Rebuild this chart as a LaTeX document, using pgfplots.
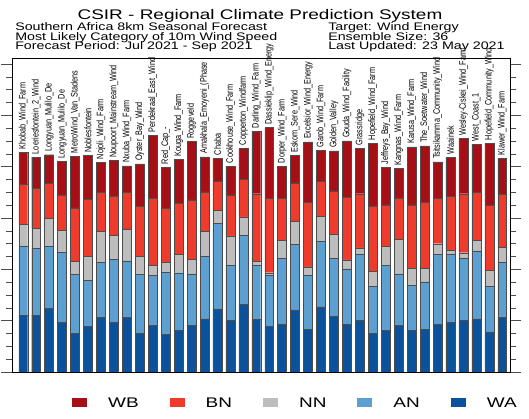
\documentclass[border=0pt]{standalone}
\usepackage{fontspec}
\setmainfont{Liberation Sans}
\newfontfamily\widefont[FakeStretch=1.36]{Liberation Sans}
\usepackage{graphicx}
\usepackage{pgfplots}
\usepackage{pgfplotstable}
\pgfplotsset{compat=1.18}

\definecolor{cWB}{HTML}{A50F15}
\definecolor{cBN}{HTML}{EF3B2C}
\definecolor{cNN}{HTML}{BDBDBD}
\definecolor{cAN}{HTML}{5BA0D0}
\definecolor{cWA}{HTML}{0A529C}
\definecolor{edge}{HTML}{4D4D4D}

% stacked shares per site, bottom to top
\pgfplotstableread{
x  WA   AN   NN   BN   WB   name
0  22.2 27.0 8.3  15.7 12.4 Khobab\_Wind\_Farm
1  22.2 26.0 7.8  15.6 12.2 Loeriesfontein\_2\_Wind
2  24.7 24.4 10.9 13.5 11.2 Longyuan\_Mulilo\_De
3  19.6 27.0 8.5  14.0 13.1 Longyuan\_Mulilo\_De
4  15.1 23.1 4.9  20.9 20.2 MetroWind\_Van\_Stadens
5  17.7 18.1 9.4  22.0 17.2 Noblesfontein
6  21.2 21.6 12.0 15.3 11.7 Nojoli\_Wind\_Farm
7  19.6 24.2 9.4  15.5 13.7 Noupoort\_Mainstream\_Wind
8  21.2 22.1 12.4 14.4 10.3 Nxuba\_Wind\_Farm
9  15.1 23.1 6.9  19.6 16.4 Oyster\_Bay\_Wind
10 18.1 19.6 3.9  26.1 24.6 Perdekraal\_East\_Wind
11 14.7 24.1 3.9  21.1 16.1 Red\_Cap\_-
12 16.1 22.6 7.3  19.8 17.0 Kouga\_Wind\_Farm
13 18.1 20.2 5.5  23.3 22.8 Roggeveld
14 20.7 24.4 9.6  15.5 13.7 Amakhala\_Emoyeni\_(Phase
15 24.6 33.3 5.2  11.1 9.2  Chaba
16 20.0 21.7 11.4 16.0 11.2 Cookhouse\_Wind\_Farm
17 26.3 26.9 7.3  14.6 12.2 Copperton\_Windfarm
18 20.5 21.2 1.4  26.4 24.4 Darling\_Wind\_Farm
19 17.7 20.0 1.0  29.0 27.6 Dassieklip\_Wind\_Energy
20 18.6 25.7 6.9  16.5 12.6 Dorper\_Wind\_Farm
21 24.2 25.5 9.0  15.0 10.7 Eskom\_Sere\_Wind
22 16.6 21.1 3.3  25.2 23.5 Excelsior\_Wind\_Energy
23 25.4 25.4 9.8  13.7 12.1 Garob\_Wind\_Farm
24 21.8 22.5 9.4  16.9 15.6 Golden\_Valley
25 18.6 21.6 3.5  24.3 22.1 Gouda\_Wind\_Facility
26 20.0 26.1 2.3  21.1 17.7 Grassridge
27 15.1 18.2 5.9  25.6 24.4 Hopefield\_Wind\_Farm
28 16.1 25.5 7.3  16.3 14.6 Jeffreys\_Bay\_Wind
29 18.1 20.2 13.3 16.3 11.6 Kangnas\_Wind\_Farm
30 16.1 17.6 6.8  24.7 22.6 Karusa\_Wind\_Farm
31 16.6 18.5 5.3  25.7 22.1 The\_Soetwater\_Wind
32 18.6 27.4 4.0  17.7 14.2 Tsitsikamma\_Community\_Wind
33 19.6 26.4 1.4  21.2 15.2 Waainek
34 20.0 24.3 2.2  23.0 21.5 Wesley-Ciskei\_Wind\_Farm
35 20.7 26.5 4.0  18.9 18.7 West\_Coast\_1
36 15.6 17.7 6.2  25.6 24.1 Hopefield\_Community\_Wind
37 21.2 21.6 5.7  20.7 14.2 Klawer\_Wind\_Farm
}\sites

\begin{document}
\begin{tikzpicture}
\useasboundingbox (0,0) rectangle (529bp,419bp);

\node[anchor=base, font=\widefont\fontsize{14}{16}\selectfont, inner sep=0pt] at (260bp,399.7bp) {CSIR - Regional Climate Prediction System};
\begin{scope}[every node/.style={anchor=base west, font=\fontsize{11}{13}\selectfont, xscale=1.3, inner sep=0pt}]
\node at (15bp,388.3bp) {Southern Africa 8km Seasonal Forecast};
\node at (15bp,378.5bp) {Most Likely Category of 10m Wind Speed};
\node at (15bp,369.5bp) {Forecast Period: Jul 2021 - Sep 2021};
\node at (328bp,388.3bp) {Target: Wind Energy};
\node at (328bp,378bp) {Ensemble Size: 36};
\node at (328bp,369.5bp) {Last Updated: 23 May 2021};
\end{scope}

\begin{axis}[
    at={(12bp,47bp)}, anchor=south west,
    scale only axis,
    width=498bp, height=313.7bp,
    xmin=-0.87, xmax=37.6,
    ymin=0, ymax=122.3,
    ybar stacked,
    bar width=0.69,
    xtick=\empty,
    ytick={0,20,...,120},
    minor ytick={0,5,...,120},
    yticklabels={},
    tick align=outside,
    major tick length=11bp,
    minor tick length=6bp,
    every tick/.style={edge, line width=0.7bp},
    axis line style={black, line width=0.8bp},
    every axis plot/.append style={draw=edge, line width=0.45bp},
    legend columns=5,
    legend image code/.code={\fill[#1] (0bp,-4.5bp) rectangle (15bp,4.5bp);},
    legend style={draw=none, fill=none, inner sep=0pt,
        at={(0.1205,-0.0988)}, anchor=west,
        font=\widefont\fontsize{14}{16}\selectfont,
        /tikz/every odd column/.append style={column sep=19bp},
        /tikz/every even column/.append style={column sep=29bp}},
]
\addlegendimage{fill=cWB, draw=none}
\addlegendimage{fill=cBN, draw=none}
\addlegendimage{fill=cNN, draw=none}
\addlegendimage{fill=cAN, draw=none}
\addlegendimage{fill=cWA, draw=none}

\addplot[fill=cWA, forget plot] table[x=x, y=WA] {\sites};
\addplot[fill=cAN, forget plot] table[x=x, y=AN] {\sites};
\addplot[fill=cNN, forget plot] table[x=x, y=NN] {\sites};
\addplot[fill=cBN, forget plot] table[x=x, y=BN] {\sites};
% site names: the node sits mid-segment, so lift it by half the WB segment
\addplot[fill=cWB, forget plot,
    visualization depends on={rawy \as \segh},
    nodes near coords={\rotatebox{90}{\scalebox{1}[1.3]{\makebox[0pt][l]{\hspace{3bp}\pgfplotspointmeta}}}},
    point meta=explicit symbolic,
    every node near coord/.append style={font=\fontsize{7.3}{8}\selectfont, inner sep=0pt, black,
        yshift={\segh*1.2825bp}}]
    table[x=x, y=WB, meta=name] {\sites};

\legend{WB,BN,NN,AN,WA}
\end{axis}
\end{tikzpicture}
\end{document}
